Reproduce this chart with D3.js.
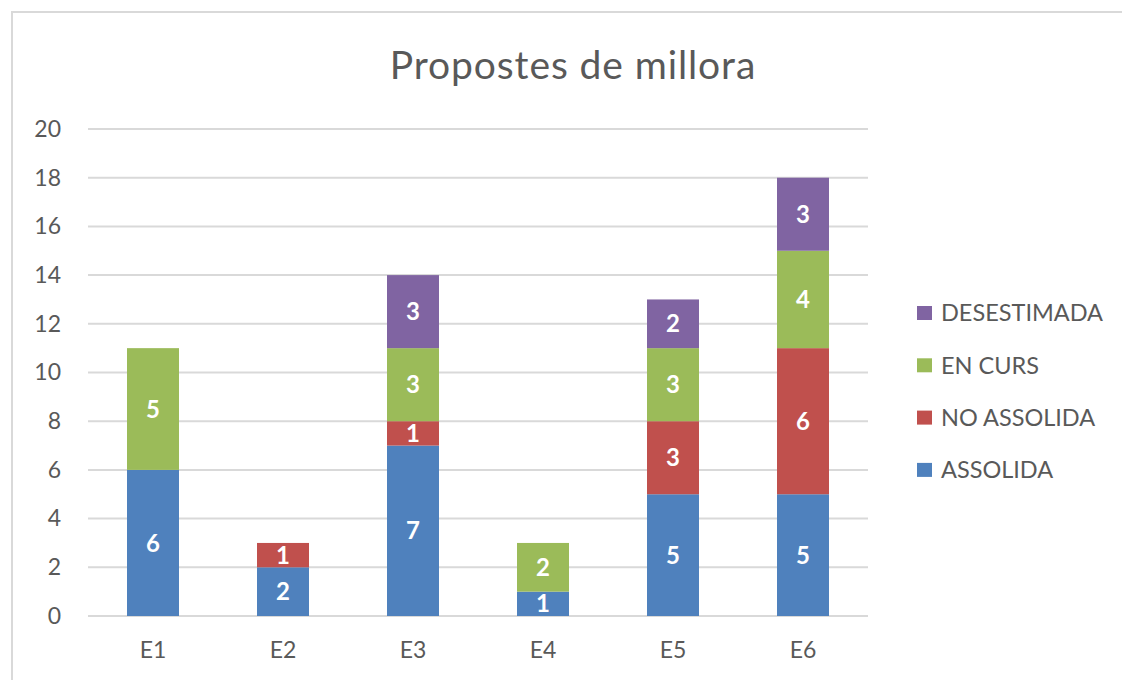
<!DOCTYPE html>
<html>
<head>
<meta charset="utf-8">
<script src="https://cdn.jsdelivr.net/npm/d3@7"></script>
<style>
  body { margin: 0; background: #fff; }
  svg { font-family: Lato, "Open Sans", sans-serif; }
</style>
</head>
<body>
<div id="chart"></div>
<script>
const categories = ["E1", "E2", "E3", "E4", "E5", "E6"];
const seriesNames = ["ASSOLIDA", "NO ASSOLIDA", "EN CURS", "DESESTIMADA"];
const assolida = [6, 2, 7, 1, 5, 5];
const noAssolida = [0, 1, 1, 0, 3, 6];
const enCurs = [5, 0, 3, 2, 3, 4];
const desestimada = [0, 0, 3, 0, 2, 3];
const yTicks = [0, 2, 4, 6, 8, 10, 12, 14, 16, 18, 20];
const colors = ["#4F81BD", "#C0504D", "#9BBB59", "#8064A2"];

const W = 1122, H = 680;
const svg = d3.select("#chart").append("svg")
    .attr("width", W)
    .attr("height", H);

// chart frame
svg.append("rect")
    .attr("x", 12).attr("y", 12)
    .attr("width", W + 20).attr("height", H + 20)
    .attr("fill", "#fff")
    .attr("stroke", "#d9d9d9")
    .attr("stroke-width", 2);

svg.append("text")
    .attr("x", 573).attr("y", 79)
    .attr("text-anchor", "middle")
    .attr("font-size", 39)
    .attr("letter-spacing", 0.9)
    .attr("fill", "#595959")
    .text("Propostes de millora");

const table = categories.map((c, i) => ({
    cat: c,
    "ASSOLIDA": assolida[i],
    "NO ASSOLIDA": noAssolida[i],
    "EN CURS": enCurs[i],
    "DESESTIMADA": desestimada[i]
}));
const stacked = d3.stack().keys(seriesNames)(table);

const x = d3.scaleBand().domain(categories).range([88, 868]).paddingInner(0.6).paddingOuter(0.3);
const y = d3.scaleLinear().domain([0, 20]).range([616, 129]);
const color = d3.scaleOrdinal().domain(seriesNames).range(colors);

// gridlines
svg.append("g")
    .selectAll("line")
    .data(yTicks)
    .enter()
    .append("line")
    .attr("x1", 88).attr("x2", 868)
    .attr("y1", d => y(d)).attr("y2", d => y(d))
    .attr("stroke", "#d9d9d9")
    .attr("stroke-width", 2);

// y axis
const yAxis = svg.append("g")
    .attr("transform", "translate(61,0)")
    .call(d3.axisLeft(y).tickValues(yTicks).tickSize(0).tickPadding(0));
yAxis.select(".domain").remove();
yAxis.selectAll("text")
    .attr("font-size", 23)
    .attr("fill", "#595959")
    .attr("font-family", "Lato, sans-serif");

// x axis
const xAxis = svg.append("g")
    .attr("transform", "translate(0,616)")
    .call(d3.axisBottom(x).tickSize(0).tickPadding(26));
xAxis.select(".domain").remove();
xAxis.selectAll("text")
    .attr("font-size", 23)
    .attr("fill", "#595959")
    .attr("font-family", "Lato, sans-serif");

// bars
const layers = svg.append("g")
    .selectAll("g")
    .data(stacked)
    .enter()
    .append("g")
    .attr("fill", d => color(d.key));

layers.selectAll("rect")
    .data(d => d.filter(v => v[1] - v[0] > 0))
    .enter()
    .append("rect")
    .attr("x", d => x(d.data.cat))
    .attr("y", d => y(d[1]))
    .attr("width", x.bandwidth())
    .attr("height", d => y(d[0]) - y(d[1]));

// value labels
layers.selectAll("text")
    .data(d => d.filter(v => v[1] - v[0] > 0))
    .enter()
    .append("text")
    .attr("x", d => x(d.data.cat) + x.bandwidth() / 2)
    .attr("y", d => (y(d[0]) + y(d[1])) / 2)
    .attr("dy", "0.36em")
    .attr("text-anchor", "middle")
    .attr("font-size", 24)
    .attr("font-weight", "bold")
    .attr("fill", "#fff")
    .text(d => d[1] - d[0]);

// legend
const legendOrder = seriesNames.slice().reverse();
const legend = svg.append("g")
    .selectAll("g")
    .data(legendOrder)
    .enter()
    .append("g")
    .attr("transform", (d, i) => "translate(917," + (313 + i * 52.3) + ")");

legend.append("rect")
    .attr("x", 0).attr("y", -7)
    .attr("width", 15).attr("height", 14)
    .attr("fill", d => color(d));

legend.append("text")
    .attr("x", 24)
    .attr("dy", "0.36em")
    .attr("font-size", 23.5)
    .attr("fill", "#595959")
    .text(d => d);
</script>
</body>
</html>
